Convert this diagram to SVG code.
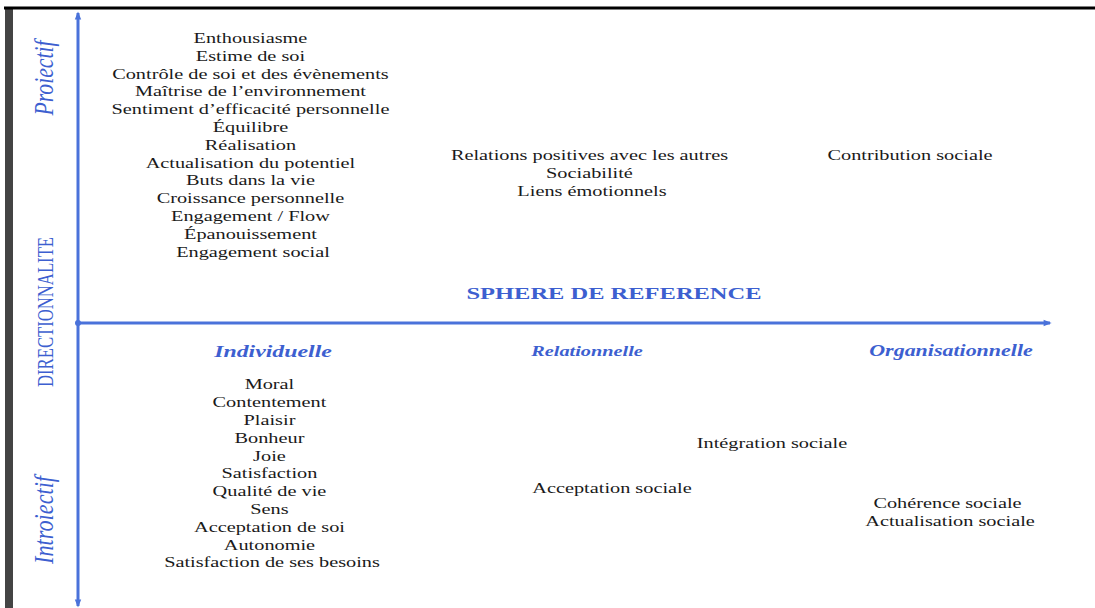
<svg xmlns="http://www.w3.org/2000/svg" width="1095" height="608" viewBox="0 0 1095 608">
<defs>
<style>
.t{font-family:"Liberation Serif","Times New Roman",serif;font-size:14.5px;fill:#1a1a1a;text-anchor:middle}
.b{font-family:"Liberation Serif","Times New Roman",serif;fill:#3d5fd0;text-anchor:middle}
.ax{stroke:#4a72da;stroke-width:3;fill:none}
</style>
<marker id="ah" viewBox="0 0 10 10" refX="8" refY="5" markerWidth="9" markerHeight="8" markerUnits="userSpaceOnUse" orient="auto-start-reverse">
<path d="M0,1 L10,5 L0,9 Z" fill="#4a72da"/>
</marker>
</defs>
<rect width="1095" height="608" fill="#ffffff"/>
<rect x="5" y="8" width="8" height="600" fill="#444444"/>
<line x1="4" y1="8" x2="1095" y2="8" stroke="#000000" stroke-width="3"/>

<g id="connectors">
<line class="ax" x1="78" y1="606" x2="78" y2="13" marker-start="url(#ah)" marker-end="url(#ah)"/>
<line class="ax" x1="78" y1="323" x2="1050" y2="323" marker-end="url(#ah)"/>
<circle cx="78" cy="323" r="3" fill="#4a72da"/>
</g>

<g id="label-projectif" transform="translate(45 78) scale(1.4 1) rotate(-90)">
<text class="b" x="0" y="6" font-size="20" font-style="italic" textLength="75" lengthAdjust="spacingAndGlyphs">Proiectif</text>
</g>
<g id="label-directionnalite" transform="translate(45 312) scale(1.4 1) rotate(-90)">
<text class="b" x="0" y="5.5" font-size="16" textLength="150" lengthAdjust="spacingAndGlyphs">DIRECTIONNALITE</text>
</g>
<g id="label-introjectif" transform="translate(45 520) scale(1.4 1) rotate(-90)">
<text class="b" x="0" y="6" font-size="20" font-style="italic" textLength="88" lengthAdjust="spacingAndGlyphs">Introiectif</text>
</g>

<g id="projectif-individuel" transform="translate(253 0) scale(1.4 1)">
<text class="t" x="0" y="43">
<tspan x="0" y="43">Enthousiasme</tspan>
<tspan x="0" dy="17.8">Estime de soi</tspan>
<tspan x="0" dy="17.8">Contrôle de soi et des évènements</tspan>
<tspan x="0" dy="17.8">Maîtrise de l’environnement</tspan>
<tspan x="0" dy="17.8">Sentiment d’efficacité personnelle</tspan>
<tspan x="0" dy="17.8">Équilibre</tspan>
<tspan x="0" dy="17.8">Réalisation</tspan>
<tspan x="0" dy="17.8">Actualisation du potentiel</tspan>
<tspan x="0" dy="17.8">Buts dans la vie</tspan>
<tspan x="0" dy="17.8">Croissance personnelle</tspan>
<tspan x="0" dy="17.8">Engagement / Flow</tspan>
<tspan x="0" dy="17.8">Épanouissement</tspan>
<tspan x="0" dy="17.8">Engagement social</tspan>
</text>
</g>

<g id="projectif-relationnel" transform="translate(592 0) scale(1.4 1)">
<text class="t">
<tspan x="0" y="160">Relations positives avec les autres</tspan>
<tspan x="0" dy="17.8">Sociabilité</tspan>
<tspan x="0" dy="17.8">Liens émotionnels</tspan>
</text>
</g>

<g id="projectif-organisationnel" transform="translate(910 0) scale(1.4 1)">
<text class="t" x="0" y="160">Contribution sociale</text>
</g>

<g id="sphere" transform="translate(614 0) scale(1.4 1)">
<text class="b" x="0" y="299" font-size="17.5" font-weight="bold">SPHERE DE REFERENCE</text>
</g>

<g id="cat-individuelle" transform="translate(273 0) scale(1.4 1)">
<text class="b" x="0" y="357" font-size="17" font-weight="bold" font-style="italic">Individuelle</text>
</g>
<g id="cat-relationnelle" transform="translate(587 0) scale(1.4 1)">
<text class="b" x="0" y="356" font-size="14.5" font-weight="bold" font-style="italic">Relationnelle</text>
</g>
<g id="cat-organisationnelle" transform="translate(951 0) scale(1.4 1)">
<text class="b" x="0" y="356" font-size="15.7" font-weight="bold" font-style="italic">Organisationnelle</text>
</g>

<g id="introjectif-individuel" transform="translate(272 0) scale(1.4 1)">
<text class="t">
<tspan x="0" y="389.5">Moral</tspan>
<tspan x="0" dy="17.8">Contentement</tspan>
<tspan x="0" dy="17.8">Plaisir</tspan>
<tspan x="0" dy="17.8">Bonheur</tspan>
<tspan x="0" dy="17.8">Joie</tspan>
<tspan x="0" dy="17.8">Satisfaction</tspan>
<tspan x="0" dy="17.8">Qualité de vie</tspan>
<tspan x="0" dy="17.8">Sens</tspan>
<tspan x="0" dy="17.8">Acceptation de soi</tspan>
<tspan x="0" dy="17.8">Autonomie</tspan>
<tspan x="0" dy="17.8">Satisfaction de ses besoins</tspan>
</text>
</g>

<g id="introjectif-integration" transform="translate(772 0) scale(1.4 1)">
<text class="t" x="0" y="448">Intégration sociale</text>
</g>
<g id="introjectif-acceptation" transform="translate(612 0) scale(1.4 1)">
<text class="t" x="0" y="493">Acceptation sociale</text>
</g>
<g id="introjectif-organisationnel" transform="translate(950 0) scale(1.4 1)">
<text class="t">
<tspan x="0" y="508">Cohérence sociale</tspan>
<tspan x="0" dy="17.8">Actualisation sociale</tspan>
</text>
</g>
</svg>
